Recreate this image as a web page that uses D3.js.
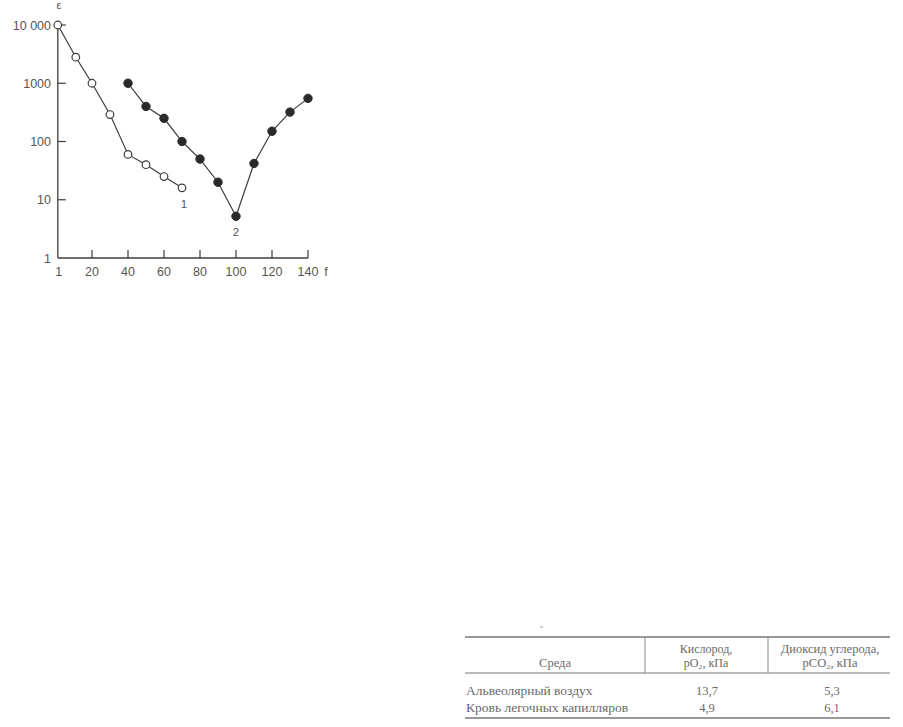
<!DOCTYPE html>
<html><head><meta charset="utf-8">
<script src="https://cdn.jsdelivr.net/npm/d3@7"></script>
<style>body{margin:0;background:#fff}</style>
</head><body>
<svg id="c" width="903" height="727"></svg>
<script>
const fTicks = [1,20,40,60,80,100,120,140];
const eTicks = [1,10,100,1000,10000];
const eTickLabels = ["1","10","100","1000","10 000"];
const s1F = [1,11,20,30,40,50,60,70];
const s1E = [10000,2800,1000,290,60,40,25,16];
const s2F = [40,50,60,70,80,90,100,110,120,130,140];
const s2E = [1000,400,250,100,50,20,5.2,42,150,320,550];
const tableHead = ["Среда", ["Кислород,", "pO₂, кПа"], ["Диоксид углерода,", "pCO₂, кПа"]];
const tableRows = ["Альвеолярный воздух", "Кровь легочных капилляров"];
const tableO2 = ["13,7", "4,9"];
const tableCO2 = ["5,3", "6,1"];

const svg = d3.select("#c");
const ink = "#3c3c3c";
const x = d3.scaleLinear().domain([0,140]).range([56,308]);
const y = d3.scaleLog().domain([1,10000]).range([258,25]);
const sans = "Liberation Sans, Arial, sans-serif";
const fsz = 12.5;

const g = svg.append("g");
g.append("line").attr("x1",x(1)).attr("x2",x(140)).attr("y1",y(1)).attr("y2",y(1)).attr("stroke",ink).attr("stroke-width",1.3);
g.append("line").attr("x1",x(1)).attr("x2",x(1)).attr("y1",y(1)).attr("y2",y(10000)).attr("stroke",ink).attr("stroke-width",1.3);
g.selectAll(".xt").data(fTicks.filter(d=>d>1)).join("line")
  .attr("x1",d=>x(d)).attr("x2",d=>x(d)).attr("y1",y(1)).attr("y2",y(1)-8)
  .attr("stroke",ink).attr("stroke-width",1.2);
g.selectAll(".xl").data(fTicks).join("text")
  .attr("x",d=>x(d)+(d===1?1:0)).attr("y",276).attr("text-anchor","middle")
  .attr("font-family",sans).attr("font-size",fsz).attr("fill","#555").text(d=>d);
g.append("text").attr("x",326).attr("y",276).attr("text-anchor","middle")
  .attr("font-family",sans).attr("font-size",fsz).attr("fill","#555").text("f");
g.selectAll(".yt").data(eTicks.filter(d=>d>1)).join("line")
  .attr("x1",x(1)).attr("x2",x(1)+8).attr("y1",d=>y(d)).attr("y2",d=>y(d))
  .attr("stroke",ink).attr("stroke-width",1.2);
g.selectAll(".yl").data(eTicks).join("text")
  .attr("x",51).attr("y",d=>y(d)+4.5).attr("text-anchor","end")
  .attr("font-family",sans).attr("font-size",fsz).attr("fill","#555")
  .text((d,i)=>eTickLabels[i]);
g.append("text").attr("x",59).attr("y",9).attr("text-anchor","middle")
  .attr("font-family",sans).attr("font-size",11).attr("fill","#555").text("ε");

const line = d3.line().x(d=>x(d[0])).y(d=>y(d[1]));
const d1 = s1F.map((f,i)=>[f,s1E[i]]);
const d2 = s2F.map((f,i)=>[f,s2E[i]]);
g.append("path").attr("d",line(d1)).attr("fill","none").attr("stroke",ink).attr("stroke-width",1.2);
g.append("path").attr("d",line(d2)).attr("fill","none").attr("stroke",ink).attr("stroke-width",1.2);
g.selectAll(".p1").data(d1).join("circle")
  .attr("cx",d=>x(d[0])).attr("cy",d=>y(d[1])).attr("r",3.8)
  .attr("fill","#fff").attr("stroke",ink).attr("stroke-width",1.2);
g.selectAll(".p2").data(d2).join("circle")
  .attr("cx",d=>x(d[0])).attr("cy",d=>y(d[1])).attr("r",4.2)
  .attr("fill","#2a2a2a").attr("stroke","#2a2a2a");
g.append("text").attr("x",x(70)+2).attr("y",y(16)+20).attr("text-anchor","middle")
  .attr("font-family",sans).attr("font-size",11.5).attr("fill","#555").text("1");
g.append("text").attr("x",x(100)).attr("y",y(5.2)+20).attr("text-anchor","middle")
  .attr("font-family",sans).attr("font-size",11.5).attr("fill","#555").text("2");

// table
const serif = "Liberation Serif, 'DejaVu Serif', serif";
const tc = "#6a6a6a";
const t = svg.append("g");
const colX = [465, 645, 768, 890];
const rule = (y0,w)=>t.append("line").attr("x1",colX[0]).attr("x2",colX[3]).attr("y1",y0).attr("y2",y0).attr("stroke","#777").attr("stroke-width",w);
t.append("line").attr("x1",540).attr("x2",543).attr("y1",627).attr("y2",627).attr("stroke","#999");
rule(637,1.3); rule(673,1); rule(718,1.3);
[colX[1],colX[2]].forEach(cx=>t.append("line").attr("x1",cx).attr("x2",cx).attr("y1",637).attr("y2",673).attr("stroke","#888").attr("stroke-width",1));
t.append("text").attr("x",555).attr("y",667).attr("text-anchor","middle").attr("font-family",serif).attr("font-size",12.5).attr("fill",tc).text(tableHead[0]);
[[706,tableHead[1],12],[830,tableHead[2],12.5]].forEach(([cx,lines,fs])=>{
  lines.forEach((s,i)=>t.append("text").attr("x",cx).attr("y",653+i*14).attr("text-anchor","middle")
    .attr("font-family",serif).attr("font-size",fs).attr("fill",tc).text(s));
});
tableRows.forEach((s,i)=>{
  const yy = 695+i*17;
  t.append("text").attr("x",466).attr("y",yy).attr("font-family",serif).attr("font-size",13.5).attr("fill",tc).text(s);
  t.append("text").attr("x",707).attr("y",yy).attr("text-anchor","middle").attr("font-family",serif).attr("font-size",12.5).attr("fill",tc).text(tableO2[i]);
  t.append("text").attr("x",832).attr("y",yy).attr("text-anchor","middle").attr("font-family",serif).attr("font-size",12.5).attr("fill",tc).text(tableCO2[i]);
});
</script>
</body></html>
